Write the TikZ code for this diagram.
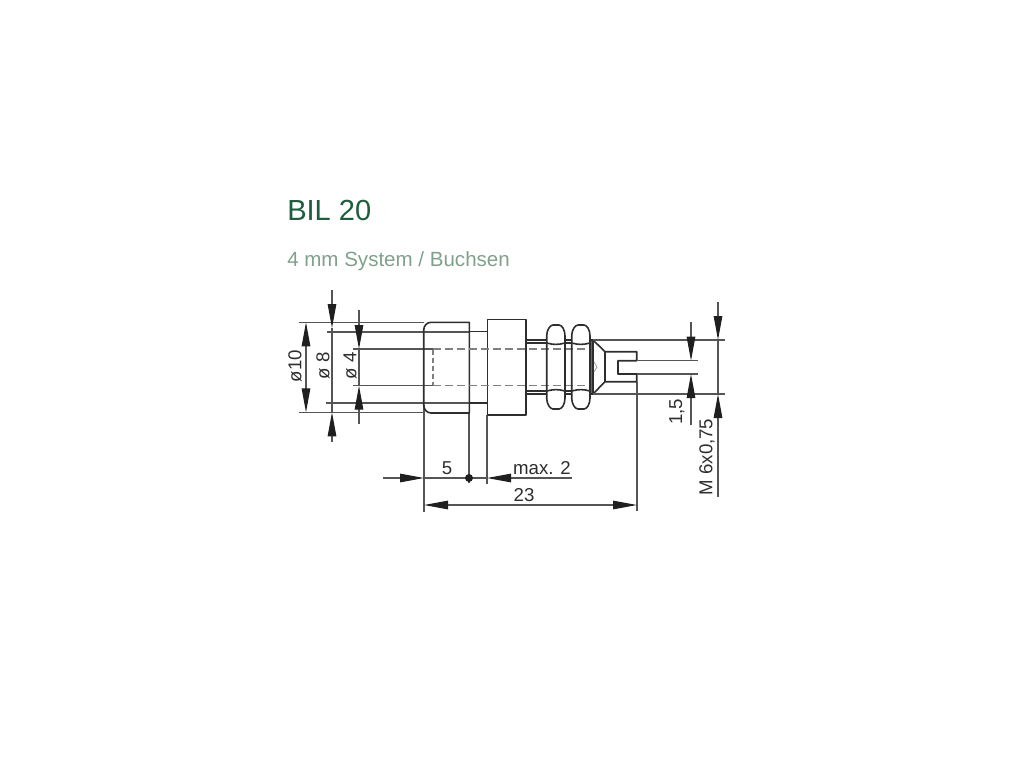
\documentclass[tikz,border=0pt]{standalone}
\usepackage{fontspec}
\setmainfont{Liberation Sans}
\usetikzlibrary{arrows.meta}
\definecolor{ink}{HTML}{2E2E2E}
\definecolor{thin}{HTML}{555555}
\definecolor{titlegreen}{HTML}{1E5E3C}
\definecolor{subgreen}{HTML}{7FA08C}
\tikzset{
  part/.style={draw=ink,line width=1.2pt,line join=round},
  edge/.style={draw=thin,line width=0.8pt},
  hidden/.style={draw=black!50,line width=1pt,dash pattern=on 6pt off 3pt},
  dimtip/.style={draw=thin,line width=0.8pt,-{Triangle[length=18pt,width=6.4pt,color=black!88]}},
  dimtext/.style={font=\fontsize{14}{16}\selectfont,text=ink,inner sep=0pt}
}
\begin{document}
\begin{tikzpicture}[x=0.75pt,y=-0.75pt]
\useasboundingbox (0,0) rectangle (1024,768);
% texts
\node[anchor=base west,inner sep=0pt,text=titlegreen,font=\fontsize{21.8}{26}\selectfont] (title) at (287,220) {BIL 20};
\node[anchor=base west,inner sep=0pt,text=subgreen,font=\fontsize{15.4}{18}\selectfont] (subtitle) at (287,266) {4 mm System / Buchsen};
% extension lines (left)
\draw[edge] (299,322.3) -- (424,322.3);
\draw[edge] (299,412.3) -- (424,412.3);
\draw[edge] (327,332) -- (469,332);
\draw[edge] (326,403) -- (469,403);
\draw[edge] (353,349) -- (433,349);
\draw[edge] (353,385.7) -- (433,385.7);
% extension lines (below)
\draw[edge] (424,405) -- (424,512);
\draw[edge] (469,413) -- (469,483);
\draw[edge] (487,415) -- (487,484);
\draw[edge] (637,382) -- (637,511);
% front sleeve
\draw[part] (469.3,322.3) -- (431,322.3) to[out=180,in=90] (423.7,330) -- (423.7,405) to[out=-90,in=180] (431,413) -- (469.3,413) -- cycle;
% neck
\draw[part] (469.3,331.6) -- (487.3,331.6) (469.3,403) -- (487.3,403);
% body
\draw[part,fill=white] (487.3,319.3) rectangle (525.7,415);
% thread
\draw[part] (525.7,340) -- (547,340) (525.7,343) -- (547,343) (525.7,394) -- (547,394) (525.7,391) -- (547,391);
\draw[part] (565,340) -- (572,340) (565,343) -- (572,343) (565,394) -- (572,394) (565,391) -- (572,391);
% hidden hole
\draw[hidden] (433,349) -- (590,349) (433,385.7) -- (590,385.7);
\draw[draw=black!50,line width=0.9pt,dash pattern=on 4pt off 2pt] (433,350) -- (433,385);
% nuts
\draw[part] (553,325) -- (559,325) .. controls (562,325) and (565,330) .. (565,336) -- (565,398) .. controls (565,404) and (562,409) .. (559,409) -- (553,409) .. controls (550,409) and (546.7,404) .. (546.7,398) -- (546.7,336) .. controls (546.7,330) and (550,325) .. cycle;
\draw[part] (546.7,343) to[out=-15,in=195] (565,343) (546.7,391) to[out=15,in=165] (565,391);
\draw[part] (578,325) -- (584,325) .. controls (587,325) and (590,330) .. (590,336) -- (590,398) .. controls (590,404) and (587,409) .. (584,409) -- (578,409) .. controls (575,409) and (571.7,404) .. (571.7,398) -- (571.7,336) .. controls (571.7,330) and (575,325) .. cycle;
\draw[part] (571.7,343) to[out=-15,in=195] (590,343) (571.7,391) to[out=15,in=165] (590,391);
% washer
\draw[part,fill=black!60] (590,340) rectangle (593,394);
% solder tag
\draw[part] (593,340) -- (605,351.7) -- (636.7,351.7) -- (636.7,360.7) -- (618,360.7) -- (618,374) -- (636.7,374) -- (636.7,381.7) -- (605,381.7) -- (593,394);
\draw[part] (605,351.7) -- (605,381.7);
\draw[draw=black!45,line width=0.5pt] (594,362) -- (597,367) -- (594,372);
% extension lines (right)
\draw[edge] (593,340) -- (725,340);
\draw[edge] (593,394) -- (725,394);
\draw[edge] (636.7,360.7) -- (698,360.7);
\draw[edge] (636.7,374) -- (698,374);
% vertical dimensions left
\coordinate (d10a) at (306,322.3); \coordinate (d10b) at (306,412.3); \coordinate (d10m1) at (306,343); \coordinate (d10m2) at (306,392);
\draw[edge] (d10m1) -- (d10m2);
\draw[dimtip] (d10m1) -- (d10a);
\draw[dimtip] (d10m2) -- (d10b);
\coordinate (d8t) at (332,290); \coordinate (d8a) at (332,328); \coordinate (d8b) at (332,412.3); \coordinate (d8e) at (332,442);
\draw[edge] (d8a) -- (d8b);
\draw[dimtip] (d8t) -- (d8a);
\draw[dimtip] (d8e) -- (d8b);
\coordinate (d4t) at (359,310); \coordinate (d4a) at (359,349); \coordinate (d4b) at (359,385.7); \coordinate (d4e) at (359,424);
\draw[edge] (d4a) -- (d4b);
\draw[dimtip] (d4t) -- (d4a);
\draw[dimtip] (d4e) -- (d4b);
% vertical dimensions right
\coordinate (d15t) at (691,322); \coordinate (d15a) at (691,360.7); \coordinate (d15b) at (691,374); \coordinate (d15e) at (691,425);
\draw[dimtip] (d15t) -- (d15a);
\draw[dimtip] (d15e) -- (d15b);
\coordinate (dMt) at (718,302); \coordinate (dMa) at (718,340); \coordinate (dMb) at (718,394); \coordinate (dMe) at (718,497);
\draw[edge] (dMa) -- (dMb);
\draw[dimtip] (dMt) -- (dMa);
\draw[dimtip] (dMe) -- (dMb);
% horizontal dimensions
\coordinate (h5s) at (383,478); \coordinate (h5a) at (424,478); \coordinate (h5m) at (469,478); \coordinate (h5b) at (487,478); \coordinate (h5e) at (571.7,478);
\draw[dimtip] (h5s) -- (h5a);
\draw[edge] (h5a) -- (h5b);
\draw[dimtip] (h5e) -- (h5b);
\fill[black!88] (h5m) circle (3pt);
\coordinate (h23a) at (424,505); \coordinate (h23b) at (637,505);
\draw[dimtip,{Triangle[length=18pt,width=6.4pt,color=black!88]}-{Triangle[length=18pt,width=6.4pt,color=black!88]}] (h23a) -- (h23b);
% labels
\node[dimtext,rotate=90] (l10) at (295,366) {ø10};
\node[dimtext,rotate=90] (l8) at (323,366) {ø 8};
\node[dimtext,rotate=90] (l4) at (350,366) {ø 4};
\node[dimtext,rotate=90] (l15) at (677,412) {1,5};
\node[dimtext,rotate=90] (lM) at (707,457) {M 6x0,75};
\node[dimtext,anchor=base] (l5) at (447,474) {5};
\node[dimtext,anchor=base] (lmax) at (542,474) {max. 2};
\node[dimtext,anchor=base] (l23) at (524,501) {23};
\end{tikzpicture}
\end{document}
